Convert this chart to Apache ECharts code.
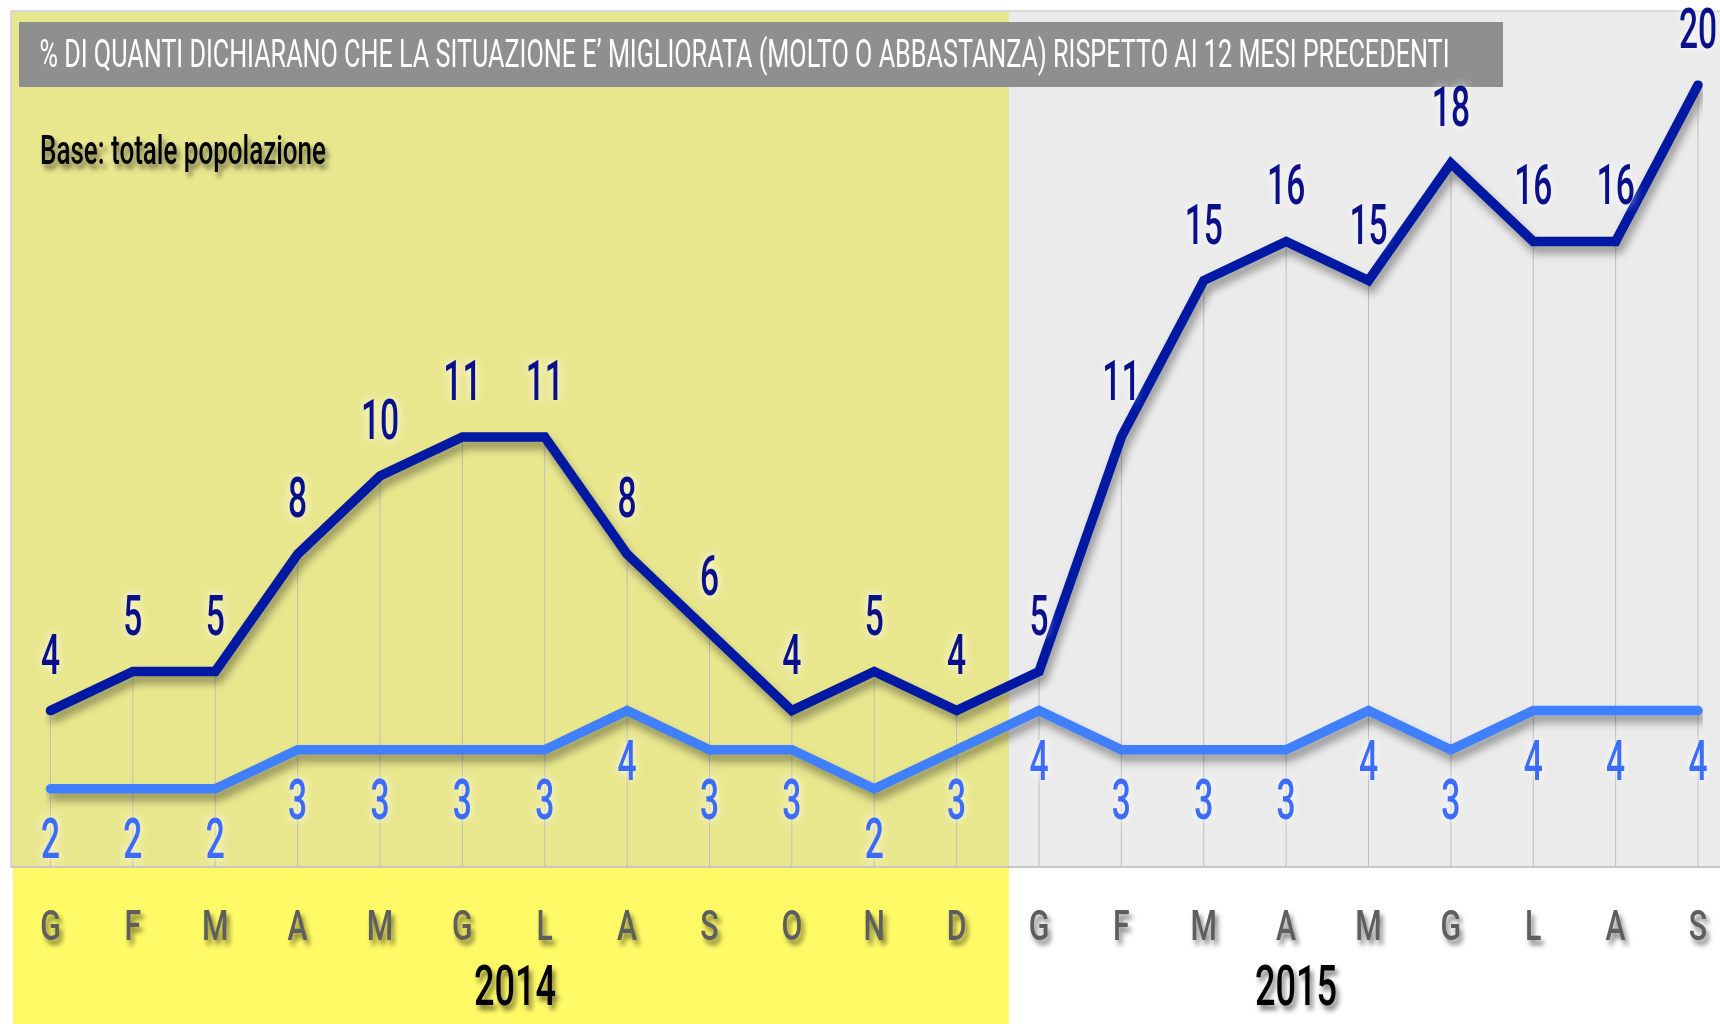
<!DOCTYPE html>
<html>
<head>
<meta charset="utf-8">
<title>Situazione migliorata rispetto ai 12 mesi precedenti</title>
<script src="https://cdn.jsdelivr.net/npm/echarts@6/dist/echarts.min.js"></script>
<style>
  html, body { margin: 0; padding: 0; background: #ffffff; }
  #chart { width: 1720px; height: 1024px; }
</style>
</head>
<body>
<div id="chart"></div>
<script>
// Month initials (Gennaio 2014 ... Settembre 2015)
const months = ['G', 'F', 'M', 'A', 'M', 'G', 'L', 'A', 'S', 'O', 'N', 'D',
                'G', 'F', 'M', 'A', 'M', 'G', 'L', 'A', 'S'];
const years = ['2014', '2015'];

// Percentages per month
const valuesMain   = [4, 5, 5, 8, 10, 11, 11, 8, 6, 4, 5, 4,
                      5, 11, 15, 16, 15, 18, 16, 16, 20];
const valuesSecond = [2, 2, 2, 3, 3, 3, 3, 4, 3, 3, 2, 3,
                      4, 3, 3, 3, 4, 3, 4, 4, 4];

const titleText = '% DI QUANTI DICHIARANO CHE LA SITUAZIONE E\u2019 MIGLIORATA (MOLTO O ABBASTANZA) RISPETTO AI 12 MESI PRECEDENTI';
const baseText = 'Base: totale popolazione';

// Horizontal squeeze factor so a regular face reads as a condensed one
const measureCtx = document.createElement('canvas').getContext('2d');
function fitScale(text, font, width) {
  measureCtx.font = font;
  return width / measureCtx.measureText(text).width;
}

const FONT = 'Roboto';
const LABEL_FONT = '500 56px ' + FONT;
const MONTH_FONT = '500 42px ' + FONT;

function condensedText(text, font, x, y, scaleX, color, align, shadow) {
  const style = {
    text: text,
    font: font,
    fill: color,
    align: align,
    verticalAlign: 'middle',
    textAlign: align,
    textVerticalAlign: 'middle'
  };
  if (shadow === 'glow') {
    style.textShadowColor = 'rgba(255,255,255,0.95)';
    style.textShadowBlur = 10;
  } else if (shadow === 'drop') {
    style.textShadowColor = 'rgba(0,0,0,0.5)';
    style.textShadowBlur = 5;
    style.textShadowOffsetX = 3;
    style.textShadowOffsetY = 5;
  }
  return { type: 'text', x: x, y: y, scaleX: scaleX, style: style };
}

// Value labels sitting above (dy < 0) or below (dy > 0) each point
function valueLabel(dy, color) {
  return function (params, api) {
    const v = api.value(1);
    const p = api.coord([api.value(0), v]);
    return condensedText(String(v), LABEL_FONT, p[0], p[1] + dy, 0.6, color, 'center', 'glow');
  };
}

// Month initials under each category tick
function monthLabel(params, api) {
  const i = api.value(0);
  const p = api.coord([i, 0]);
  return condensedText(months[i], MONTH_FONT, p[0], p[1] + 62, 0.72, '#5e5e5e', 'center', 'drop');
}

function fittedText(text, font, x, y, width, color, align, shadow) {
  const el = condensedText(text, font, x, y, fitScale(text, font, width), color, align, shadow);
  el.z = 2;
  return el;
}

const chart = echarts.init(document.getElementById('chart'), null, { renderer: 'canvas' });

const option = {
  backgroundColor: '#ffffff',
  animation: false,
  grid: { left: 50.5, right: 22, top: 85, bottom: 157 },
  xAxis: {
    type: 'category',
    data: months,
    boundaryGap: false,
    axisLine: { show: false },
    axisTick: { show: false },
    splitLine: { show: false },
    axisLabel: { show: false }
  },
  yAxis: { type: 'value', min: 0, max: 20, show: false },
  graphic: {
    elements: [
      // plot backgrounds: 2014 (yellow) and 2015 (grey)
      { type: 'rect', z: -10, shape: { x: 11, y: 11, width: 1720, height: 856 },
        style: { fill: '#ebebeb', stroke: '#cfcfcf', lineWidth: 1.5 } },
      { type: 'rect', z: -9, shape: { x: 12, y: 12, width: 997, height: 855 },
        style: { fill: '#e9e78e' } },
      { type: 'rect', z: -9, shape: { x: 13, y: 867, width: 996, height: 160 },
        style: { fill: '#fffa66' } },
      { type: 'line', z: -8, shape: { x1: 11, y1: 867, x2: 1720, y2: 867 },
        style: { stroke: '#c8c8c8', lineWidth: 2 } },
      // title bar
      { type: 'rect', z: 1, shape: { x: 19, y: 22, width: 1484, height: 65 },
        style: { fill: '#8f8f8f' } },
      fittedText(titleText, '400 38px ' + FONT, 39.5, 57.5, 1410, '#ffffff', 'left', null),
      fittedText(baseText, '500 40px ' + FONT, 40, 154, 286, '#000000', 'left', 'drop'),
      fittedText(years[0], '500 56px ' + FONT, 515, 991, 82, '#000000', 'center', 'drop'),
      fittedText(years[1], '500 56px ' + FONT, 1296, 991, 82, '#000000', 'center', 'drop')
    ]
  },
  series: [
    {
      // drop lines from each point of the main line down to the axis
      type: 'bar',
      data: valuesMain,
      barWidth: 1,
      silent: true,
      z: 1,
      itemStyle: { color: '#bdbdbd' }
    },
    {
      type: 'line',
      data: valuesSecond,
      symbol: 'none',
      z: 3,
      lineStyle: {
        color: '#4080ff', width: 9.5, cap: 'round', join: 'miter',
        shadowColor: 'rgba(0,0,0,0.38)', shadowBlur: 9, shadowOffsetX: 3, shadowOffsetY: 7
      }
    },
    {
      type: 'line',
      data: valuesMain,
      symbol: 'none',
      z: 4,
      lineStyle: {
        color: '#0019a3', width: 9.5, cap: 'round', join: 'miter',
        shadowColor: 'rgba(0,0,0,0.38)', shadowBlur: 9, shadowOffsetX: 3, shadowOffsetY: 7
      }
    },
    {
      type: 'custom',
      data: months.map((m, i) => [i, 0]),
      encode: { x: 0, y: 1 },
      z: 5,
      silent: true,
      clip: false,
      renderItem: monthLabel
    },
    {
      type: 'custom',
      data: valuesSecond.map((v, i) => [i, v]),
      encode: { x: 0, y: 1 },
      z: 5,
      silent: true,
      renderItem: valueLabel(55, '#3b6cff')
    },
    {
      type: 'custom',
      data: valuesMain.map((v, i) => [i, v]),
      encode: { x: 0, y: 1 },
      z: 6,
      silent: true,
      renderItem: valueLabel(-51, '#0a0f8a')
    }
  ]
};

chart.setOption(option);
</script>
</body>
</html>
